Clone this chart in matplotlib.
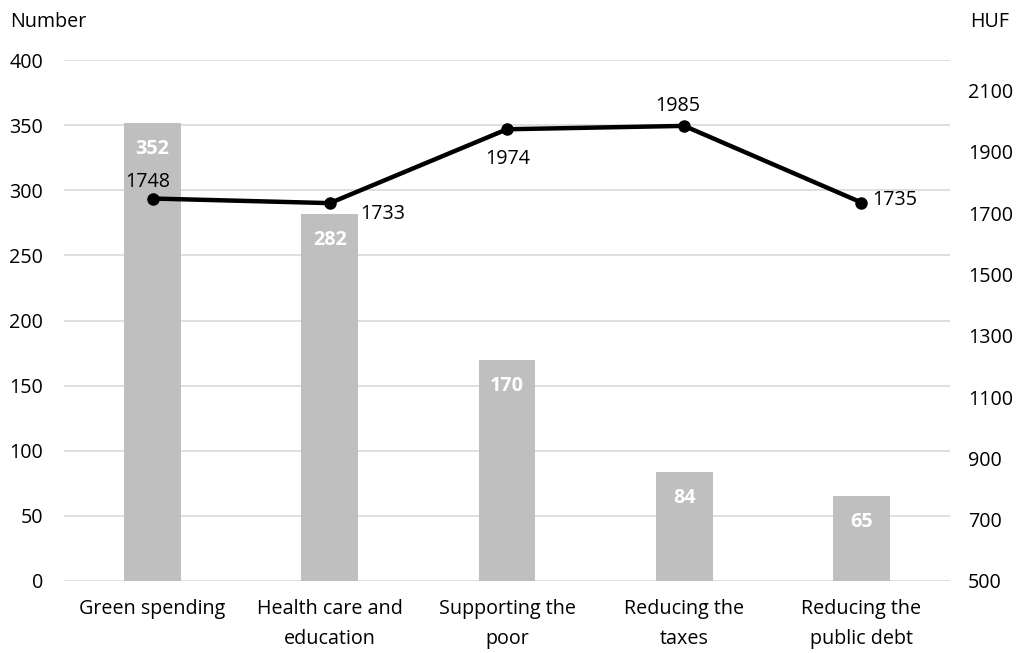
import matplotlib
matplotlib.use("Agg")
import matplotlib.pyplot as plt

categories = ["Green spending", "Health care and\neducation", "Supporting the\npoor", "Reducing the\ntaxes", "Reducing the\npublic debt"]
counts = [352, 282, 170, 84, 65]
huf = [1748, 1733, 1974, 1985, 1735]
left_ticks = [0, 50, 100, 150, 200, 250, 300, 350, 400]
right_ticks = [500, 700, 900, 1100, 1300, 1500, 1700, 1900, 2100]

plt.rcParams['font.family'] = ['Open Sans', 'DejaVu Sans']
fs = 14.2

fig = plt.figure(figsize=(10.21, 6.53), dpi=100)
ax = fig.add_axes([64/1021, 1-581/653, (950-64)/1021, (581-60)/653])
x = list(range(len(categories)))
ax.bar(x, counts, width=0.32, color="#bfbfbf", zorder=2)
ax.set_xlim(-0.5, 4.5)
ax.set_ylim(0, 400)
ax.set_yticks(left_ticks)
ax.set_xticks(x)
ax.set_xticklabels(categories, fontsize=fs, linespacing=1.65)
ax.tick_params(axis='both', length=0, labelsize=fs, colors="#000000")
ax.tick_params(axis='x', pad=13)
ax.tick_params(axis='y', pad=15)
ax.grid(axis='y', color="#d9d9d9", linewidth=1.2, zorder=0)
for s in ax.spines.values():
    s.set_visible(False)
for xi, c in zip(x, counts):
    ax.annotate(str(c), (xi, c), xytext=(0, -26), textcoords='offset pixels',
                ha='center', va='center', color='white', fontweight='bold', fontsize=fs, zorder=5)

ax2 = ax.twinx()
ax2.set_ylim(500, 2200)
ax2.set_yticks(right_ticks)
ax2.tick_params(axis='y', length=0, labelsize=fs, pad=13)
for s in ax2.spines.values():
    s.set_visible(False)
ax2.plot(x, huf, color='black', linewidth=3.2, marker='o', markersize=8, zorder=4)
offsets = [(-5, 17), (53, -11), (1, -30), (-6, 20), (33, 3)]
for xi, v, (dx, dy) in zip(x, huf, offsets):
    ax2.annotate(str(v), (xi, v), xytext=(dx, dy), textcoords='offset pixels',
                 ha='center', va='center', fontsize=fs, color='black')

fig.text(10/1021, 1-22/653, "Number", fontsize=fs, ha='left', va='center')
fig.text(970/1021, 1-22/653, "HUF", fontsize=fs, ha='left', va='center')

fig.savefig("out.png", dpi=100)
